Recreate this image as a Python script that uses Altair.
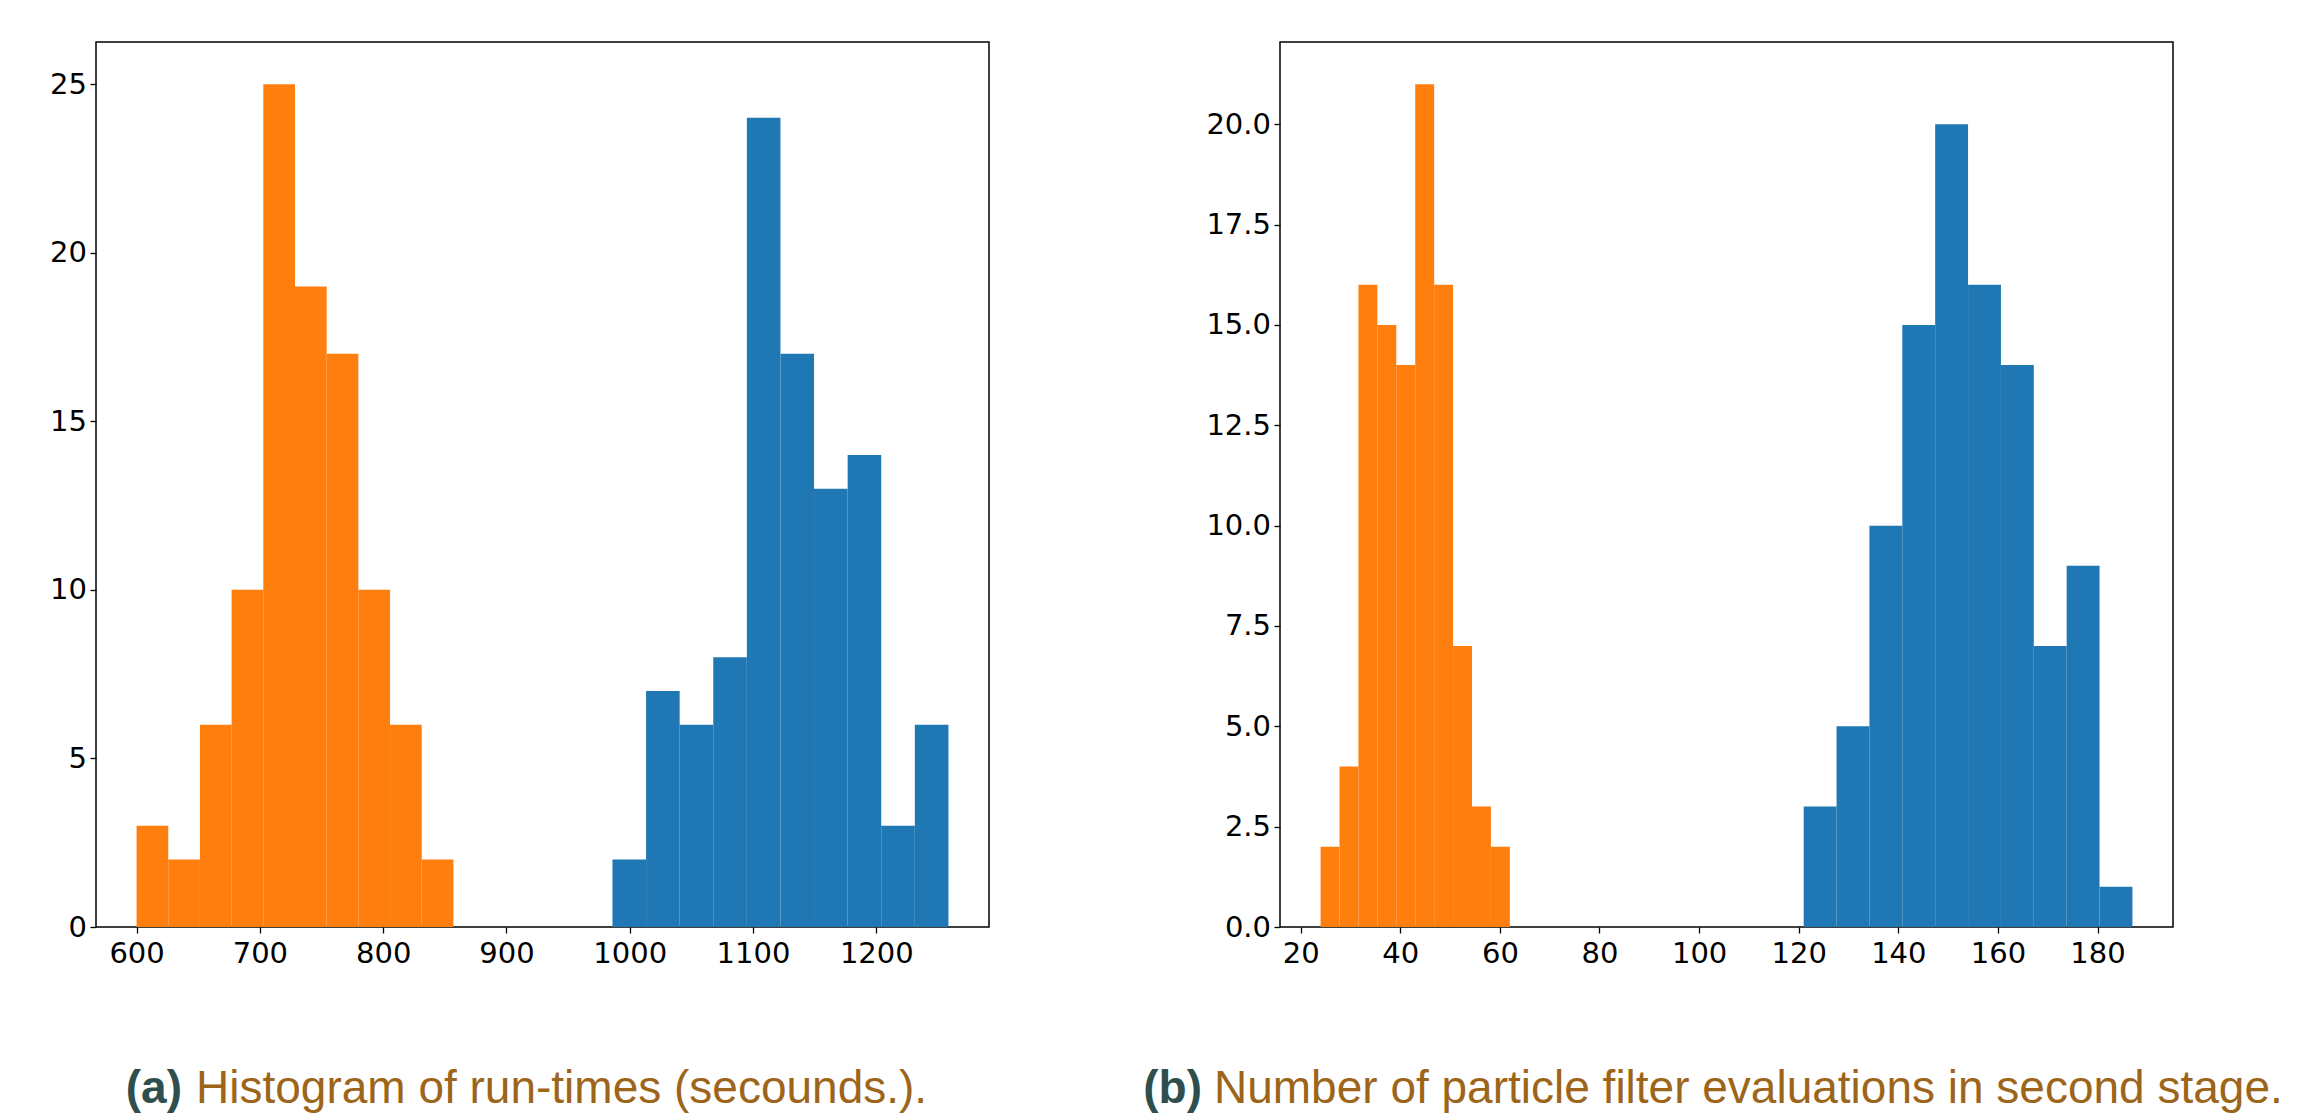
import altair as alt
import pandas as pd

# ---- Panel (a): histogram of run-times ----
a_orange_edges = [600, 625.7, 651.4, 677.1, 702.8, 728.5, 754.2, 779.9, 805.6, 831.3, 857.0]
a_orange_counts = [3, 2, 6, 10, 25, 19, 17, 10, 6, 2]
a_blue_edges = [986, 1013.25, 1040.5, 1067.75, 1095, 1122.25, 1149.5, 1176.75, 1204, 1231.25, 1258.5]
a_blue_counts = [2, 7, 6, 8, 24, 17, 13, 14, 3, 6]
a_x_ticks = [600, 700, 800, 900, 1000, 1100, 1200]
a_y_ticks = [0, 5, 10, 15, 20, 25]
a_x_domain = [567.1, 1291.4]
a_y_domain = [0, 26.25]
a_tag = "(a)"
a_caption = "Histogram of run-times (secounds.)."

# ---- Panel (b): particle filter evaluations ----
b_orange_edges = [24, 27.8, 31.6, 35.4, 39.2, 43.0, 46.8, 50.6, 54.4, 58.2, 62.0]
b_orange_counts = [2, 4, 16, 15, 14, 21, 16, 7, 3, 2]
b_blue_edges = [121, 127.6, 134.2, 140.8, 147.4, 154.0, 160.6, 167.2, 173.8, 180.4, 187.0]
b_blue_counts = [3, 5, 10, 15, 20, 16, 14, 7, 9, 1]
b_x_ticks = [20, 40, 60, 80, 100, 120, 140, 160, 180]
b_y_ticks = [0, 2.5, 5, 7.5, 10, 12.5, 15, 17.5, 20]
b_x_domain = [15.85, 195.15]
b_y_domain = [0, 22.05]
b_tag = "(b)"
b_caption = "Number of particle filter evaluations in second stage."

SERIES = ["orange", "blue"]
COLORS = ["#ff7f0e", "#1f77b4"]
TAG_COLOR = "#2F4F4F"
CAP_COLOR = "#9D6519"
CAP_FONT = "Liberation Sans"
CAP_SIZE = 46

PLOT_W = 893
PLOT_H = 885


def hist_df(series_edges):
    rows = []
    for name, edges, counts in series_edges:
        for i, c in enumerate(counts):
            rows.append({"series": name, "x0": edges[i], "x1": edges[i + 1], "count": c})
    return pd.DataFrame(rows)


def panel(df, xdom, xticks, ydom, yticks, yfmt, tag, caption, tag_x, cap_x):
    bars = alt.Chart(df).mark_rect().encode(
        x=alt.X("x0:Q", scale=alt.Scale(domain=xdom, nice=False, zero=False),
                axis=alt.Axis(values=xticks, format="d", title=None, grid=False)),
        x2="x1:Q",
        y=alt.Y("count:Q", scale=alt.Scale(domain=ydom, nice=False, zero=True),
                axis=alt.Axis(values=yticks, format=yfmt, title=None, grid=False)),
        y2=alt.datum(0),
        color=alt.Color("series:N", scale=alt.Scale(domain=SERIES, range=COLORS), legend=None),
    )
    tag_layer = alt.Chart(pd.DataFrame({"t": [tag]})).mark_text(
        align="right", baseline="alphabetic", font=CAP_FONT, fontSize=CAP_SIZE,
        fontWeight="bold", color=TAG_COLOR,
    ).encode(text="t:N", x=alt.value(tag_x), y=alt.value(1061))
    cap_layer = alt.Chart(pd.DataFrame({"t": [caption]})).mark_text(
        align="left", baseline="alphabetic", font=CAP_FONT, fontSize=CAP_SIZE,
        color=CAP_COLOR,
    ).encode(text="t:N", x=alt.value(cap_x), y=alt.value(1061))
    return alt.layer(bars, tag_layer, cap_layer).properties(width=PLOT_W, height=PLOT_H)


df_a = hist_df([("orange", a_orange_edges, a_orange_counts), ("blue", a_blue_edges, a_blue_counts)])
df_b = hist_df([("orange", b_orange_edges, b_orange_counts), ("blue", b_blue_edges, b_blue_counts)])

pa = panel(df_a, a_x_domain, a_x_ticks, a_y_domain, a_y_ticks, "d", a_tag, a_caption, 86, 100)
pb = panel(df_b, b_x_domain, b_x_ticks, b_y_domain, b_y_ticks, ".1f", b_tag, b_caption, -78, -66)

chart = alt.HConcatChart(hconcat=[pa, pb], spacing=291, bounds="flush").properties(
    padding={"left": 40, "top": 33, "right": 5, "bottom": 5},
).configure_view(
    stroke="black", strokeWidth=1.5
).configure_axis(
    labelFont="DejaVu Sans", labelFontSize=29, labelColor="black",
    tickColor="black", tickSize=6, tickWidth=1.3, domain=False,
    labelFlush=False, labelOverlap=False,
).configure_axisX(
    labelPadding=6
).configure_axisY(
    labelPadding=3.5
)

chart.save("out.html", embed_options={"renderer": "svg", "actions": False})
